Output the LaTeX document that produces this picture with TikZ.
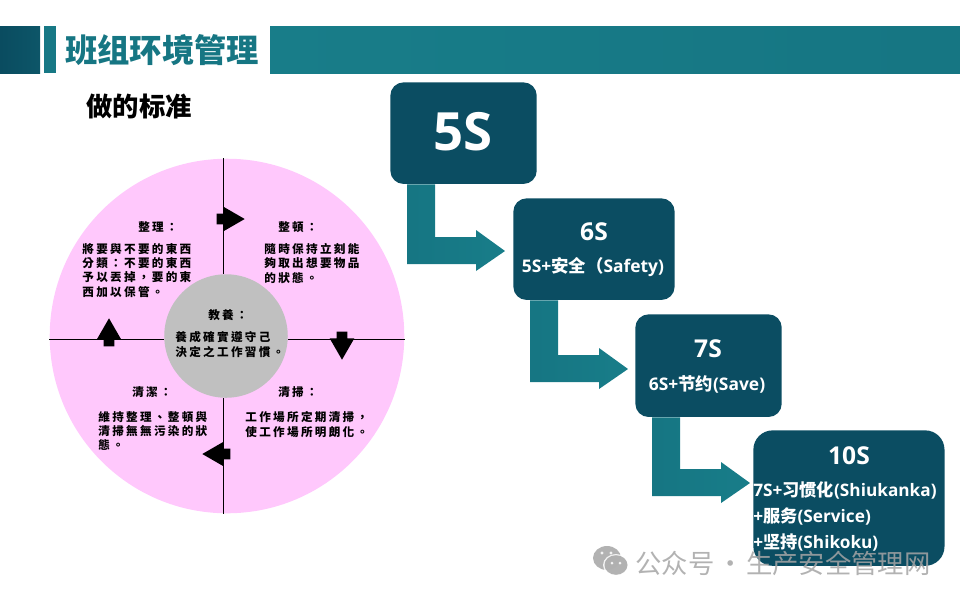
\documentclass[tikz,border=0pt]{standalone}
\usepackage{fontspec}
\usetikzlibrary{calc,shapes.arrows}
\setmainfont{Open Sans}
\newfontfamily\cjk{Noto Sans CJK SC}
\newfontfamily\kaifont[LetterSpace=20]{Noto Sans CJK TC}
\definecolor{BoxTeal}{RGB}{11,77,98}
\definecolor{BandTeal}{RGB}{24,125,137}
\definecolor{BandDark}{RGB}{10,76,96}
\definecolor{RingPink}{RGB}{255,200,252}
\definecolor{HubGray}{RGB}{192,192,192}
\definecolor{MarkGray}{RGB}{165,165,165}
\newcommand{\bentarrow}[2]{\path[flowarrow] ($(#1.south west)+(17,0)$) coordinate (s#1) -- ++(28,0) |- ($(#2)+(-29,-14)$) -- ++(0,-7) -- (#2) -- ++(-29,20) -- ++(0,-7) -| (s#1) -- cycle;}
\tikzset{
  stepbox/.style={fill=BoxTeal,rounded corners=#1,inner sep=0pt,anchor=north west},
  flowarrow/.style={left color=BandTeal!85!BandDark,right color=BandTeal},
  blackarrow/.style={single arrow,fill=black,inner xsep=0pt,inner ysep=2.85pt,minimum height=16pt,minimum width=13.6pt,single arrow head extend=3.95pt,single arrow tip angle=60},
  ringhead/.style={font=\kaifont\bfseries\fontsize{6.6}{8}\selectfont,inner sep=0pt},
  ringtext/.style={font=\kaifont\bfseries\fontsize{6.6}{8.05}\selectfont,align=left,anchor=west,inner sep=0pt},
  boxhead/.style={text=white,font=\bfseries\fontsize{14}{16}\selectfont,inner sep=0pt},
  boxtext/.style={text=white,font=\bfseries\fontsize{9.9}{11}\selectfont,inner sep=0pt},
  tentext/.style={boxtext,font=\bfseries\fontsize{9.8}{11}\selectfont,anchor=west},
}
\begin{document}
\begin{tikzpicture}[x=0.02cm,y=-0.02cm]
\useasboundingbox (0,0) rectangle (960,600);
% header
\fill[left color=BandDark,right color=BandDark!80!BandTeal] (0,26) rectangle (40,73);
\fill[BandTeal!90!BandDark] (44,26) rectangle (56,73);
\fill[left color=BandTeal,right color=BandTeal!85!BandDark] (270,26) rectangle (960,73);
\node[text=BandTeal!85!BandDark,font=\cjk\bfseries\fontsize{18.4}{20}\selectfont,inner sep=0pt] (title) at (162,50) {班组环境管理};
\node[font=\cjk\bfseries\fontsize{15}{17}\selectfont,inner sep=0pt] (subtitle) at (139,107) {做的标准};
% ring
\node[circle,fill=RingPink,minimum size=201.8pt,inner sep=0pt] (ring) at (227,336) {};
\node[circle,fill=HubGray,minimum size=70.3pt,inner sep=0pt] (hub) at (226,336) {};
\coordinate (cross) at (223,339);
\draw[line width=.5pt] (cross |- ring.north) -- (cross |- hub.north) (cross |- hub.south) -- (cross |- ring.south) (ring.west |- cross) -- (hub.west |- cross) (hub.east |- cross) -- (ring.east |- cross);
\node[blackarrow] (arrowa) at (226,219) {};
\node[blackarrow,rotate=-90] (arrowb) at (342,341) {};
\node[blackarrow,rotate=180] (arrowc) at (221,454) {};
\node[blackarrow,rotate=90] (arrowd) at (109,337) {};
\node[ringhead] (headzl) at (158,227) {整理：};
\node[ringhead] (headzd) at (298,227) {整頓：};
\node[ringhead] (headjy) at (228,315) {教養：};
\node[ringhead] (headqs) at (298,392) {清掃：};
\node[ringhead] (headqj) at (152,392) {清潔：};
\node[ringtext] (textzl) at (82,270.5) {將要與不要的東西\\分類：不要的東西\\予以丟掉，要的東\\西加以保管。};
\node[ringtext] (textzd) at (264,263.5) {隨時保持立刻能\\夠取出想要物品\\的狀態。};
\node[ringtext] (textjy) at (175,344.5) {養成確實遵守己\\決定之工作習慣。};
\node[ringtext] (textqs) at (245,424.5) {工作場所定期清掃，\\使工作場所明朗化。};
\node[ringtext] (textqj) at (98,431) {維持整理、整頓與\\清掃無無污染的狀\\態。};
% steps
\node[stepbox=7.5pt,minimum width=83.3pt,minimum height=57.8pt] (fives) at (390,82) {};
\node[stepbox=7.5pt,minimum width=91.8pt,minimum height=57.8pt] (sixs) at (513,198) {};
\node[stepbox=7.5pt,minimum width=83.3pt,minimum height=58.4pt] (sevens) at (635,314) {};
\node[stepbox=11pt,minimum width=108.8pt,minimum height=77.1pt] (tens) at (753,430) {};
\coordinate (tipa) at (505,251);
\coordinate (tipb) at (628,369);
\coordinate (tipc) at (750,483);
\bentarrow{fives}{tipa}
\bentarrow{sixs}{tipb}
\bentarrow{sevens}{tipc}
\node[boxhead,font=\bfseries\fontsize{30}{32}\selectfont] (fivehead) at (463,132) {5S};
\node[boxhead] (sixhead) at (594,232) {6S};
\node[boxtext] (sixtext) at (593,267) {5S+{\cjk\bfseries 安全（}Safety)};
\node[boxhead] (sevenhead) at (708,349) {7S};
\node[boxtext] (seventext) at (707,384) {6S+{\cjk\bfseries 节约}(Save)};
\node[boxhead] (tenhead) at (849,456) {10S};
\node[tentext] (tentexta) at (753,490) {7S+{\cjk\bfseries 习惯化}(Shiukanka)};
\node[tentext] (tentextb) at (753,516) {+{\cjk\bfseries 服务}(Service)};
\node[tentext] (tentextc) at (753,542) {+{\cjk\bfseries 坚持}(Shikoku)};
% watermark
\begin{scope}[opacity=.85]
\fill[MarkGray] (607,558) ellipse (14 and 12);
\fill[white] (602,553) circle (1.7) (611,553) circle (1.7);
\fill[white] (616,565) ellipse (13 and 11);
\fill[MarkGray] (616,565) ellipse (11.5 and 9.8);
\fill[white] (612,563) circle (1.5) (620,563) circle (1.5);
\node[text=MarkGray,font=\cjk\fontsize{15}{16}\selectfont,inner sep=0pt] (mark) at (783,563) {公众号\hspace{.1em}·\hspace{.1em}生产安全管理网};
\end{scope}
\end{tikzpicture}
\end{document}
